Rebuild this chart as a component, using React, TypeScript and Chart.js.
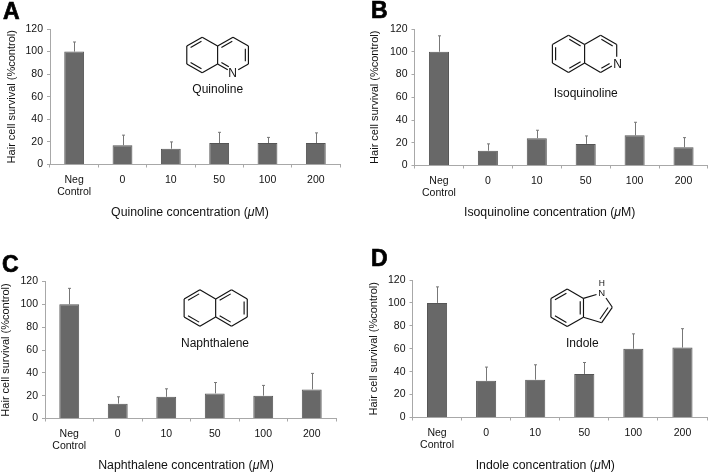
import React, { useEffect, useRef } from "react";
import { Chart, registerables } from "chart.js";

Chart.register(...registerables);

const categories = [["Neg", "Control"], "0", "10", "50", "100", "200"];
const yTicks = [0, 20, 40, 60, 80, 100, 120];

const quinolineValues = [100, 17, 14, 19, 19, 19];
const quinolineUpper = [108.5, 26, 20, 28.5, 24, 28];
const isoquinolineValues = [100, 13, 24, 19, 26.5, 16];
const isoquinolineUpper = [114, 19, 31, 26, 38, 24.5];
const naphthaleneValues = [100, 13, 19, 22, 20, 25.5];
const naphthaleneUpper = [114, 19, 26, 31.5, 29, 39.5];
const indoleValues = [100, 32, 33, 38, 60, 61];
const indoleUpper = [114, 44, 46, 48, 73, 77.5];

type Ctx = CanvasRenderingContext2D;
const INK = "#111111";
const FONT = "'Liberation Sans', Arial, sans-serif";

function seg(ctx: Ctx, x1: number, y1: number, x2: number, y2: number) {
  ctx.beginPath();
  ctx.moveTo(x1, y1);
  ctx.lineTo(x2, y2);
  ctx.stroke();
}

function ring(
  ctx: Ctx,
  cx: number,
  cy: number,
  R: number,
  doubles: number[],
  trims: Record<number, [number, number]> = {},
  skip: number[] = []
) {
  const v = [0, 1, 2, 3, 4, 5].map((k) => {
    const a = ((-90 + 60 * k) * Math.PI) / 180;
    return [cx + R * Math.cos(a), cy + R * Math.sin(a)];
  });
  for (let e = 0; e < 6; e++) {
    const [a, b] = [v[e], v[(e + 1) % 6]];
    const [s, t] = trims[e] || [0, 1];
    const lerp = (f: number, p: number[] = a, q: number[] = b) => [p[0] + (q[0] - p[0]) * f, p[1] + (q[1] - p[1]) * f];
    const p = lerp(s);
    const q = lerp(t);
    if (!skip.includes(e)) seg(ctx, p[0], p[1], q[0], q[1]);
    if (doubles.includes(e)) {
      const k = 0.8;
      const ia = [cx + (a[0] - cx) * k, cy + (a[1] - cy) * k];
      const ib = [cx + (b[0] - cx) * k, cy + (b[1] - cy) * k];
      const s2 = Math.max(s, 0.06);
      const t2 = Math.min(t, 0.94);
      const p2 = lerp(s2, ia, ib);
      const q2 = lerp(t2, ia, ib);
      seg(ctx, p2[0], p2[1], q2[0], q2[1]);
    }
  }
}

function atom(ctx: Ctx, label: string, x: number, y: number, size = 12) {
  ctx.font = `${size}px ${FONT}`;
  ctx.textAlign = "center";
  ctx.textBaseline = "middle";
  ctx.fillText(label, x, y);
}

const drawQuinoline = (ctx: Ctx) => {
  ring(ctx, 202.2, 55, 17.8, [5, 3]);
  ring(ctx, 233, 55, 17.8, [5, 1, 3], { 2: [0, 0.66], 3: [0.34, 1] }, [4]);
  atom(ctx, "N", 232.5, 73.5);
};
const drawIsoquinoline = (ctx: Ctx) => {
  ring(ctx, 568.5, 53.8, 18.6, [0, 2, 4]);
  ring(ctx, 600.6, 53.8, 18.6, [0, 2], { 1: [0, 0.66], 2: [0.3, 1] }, [4]);
  atom(ctx, "N", 617.5, 65);
};
const drawNaphthalene = (ctx: Ctx) => {
  ring(ctx, 199.9, 308, 18.2, [5, 3]);
  ring(ctx, 231.5, 308, 18.2, [5, 1, 3], {}, [4]);
};
const drawIndole = (ctx: Ctx) => {
  ring(ctx, 567.2, 307.8, 18.8, [5, 3, 1]);
  seg(ctx, 583.4, 298.4, 596.5, 294.5);
  seg(ctx, 606, 298, 612.3, 307.3);
  seg(ctx, 612.3, 307.3, 601.7, 322.7);
  seg(ctx, 608, 307.5, 600, 319);
  seg(ctx, 601.7, 322.7, 583.4, 317.2);
  atom(ctx, "N", 601.8, 293, 9.5);
  atom(ctx, "H", 601.8, 284, 8.5);
};

type Panel = {
  letter: string;
  letterX: number;
  letterY: number;
  x: number;
  y: number;
  w: number;
  h: number;
  axisX: number;
  axisRight: number;
  y0: number;
  y120: number;
  yTitleX: number;
  values: number[];
  upper: number[];
  name: string;
  nameX: number;
  nameY: number;
  xTitle: string;
  xTitleX: number;
  xTitleY: number;
  mol: (c: Ctx) => void;
};

const panels: Panel[] = [
  { letter: "A", letterX: 3, letterY: 19, x: -6, y: 0, w: 360, h: 236, axisX: 50, axisRight: 340, y0: 164.5, y120: 29, yTitleX: 12, values: quinolineValues, upper: quinolineUpper, name: "Quinoline", nameX: 217.7, nameY: 90, xTitle: "Quinoline", xTitleX: 190, xTitleY: 213, mol: drawQuinoline },
  { letter: "B", letterX: 371, letterY: 18, x: 354, y: 0, w: 354, h: 236, axisX: 414.5, axisRight: 708, y0: 165.5, y120: 29, yTitleX: 375, values: isoquinolineValues, upper: isoquinolineUpper, name: "Isoquinoline", nameX: 585.7, nameY: 94, xTitle: "Isoquinoline", xTitleX: 549.7, xTitleY: 213, mol: drawIsoquinoline },
  { letter: "C", letterX: 2, letterY: 272, x: -6, y: 236, w: 360, h: 237, axisX: 45, axisRight: 336, y0: 418.5, y120: 281.5, yTitleX: 5.5, values: naphthaleneValues, upper: naphthaleneUpper, name: "Naphthalene", nameX: 215, nameY: 344, xTitle: "Naphthalene", xTitleX: 186, xTitleY: 466, mol: drawNaphthalene },
  { letter: "D", letterX: 371, letterY: 266, x: 354, y: 236, w: 354, h: 237, axisX: 412.5, axisRight: 707, y0: 417.5, y120: 280, yTitleX: 374, values: indoleValues, upper: indoleUpper, name: "Indole", nameX: 582.3, nameY: 344, xTitle: "Indole", xTitleX: 545.3, xTitleY: 466, mol: drawIndole },
];

function makePlugin(p: Panel) {
  return {
    id: "panelExtras",
    afterDatasetsDraw(chart: any) {
      const ctx: Ctx = chart.ctx;
      const xs = chart.scales.x;
      const ys = chart.scales.y;
      ctx.save();
      ctx.strokeStyle = "#777777";
      ctx.lineWidth = 1;
      p.values.forEach((v, i) => {
        const cx = Math.round(xs.getPixelForValue(i)) + 0.5;
        const top = ys.getPixelForValue(p.upper[i]);
        const base = ys.getPixelForValue(v);
        seg(ctx, cx, base, cx, top);
        seg(ctx, cx - 1.5, top, cx + 1.5, top);
      });
      ctx.restore();
    },
    afterDraw(chart: any) {
      const ctx: Ctx = chart.ctx;
      ctx.save();
      ctx.translate(-p.x, -p.y);
      ctx.fillStyle = "#000";
      ctx.strokeStyle = "#000";
      ctx.lineWidth = 0.7;
      ctx.font = `bold 23px ${FONT}`;
      ctx.textAlign = "left";
      ctx.textBaseline = "alphabetic";
      ctx.fillText(p.letter, p.letterX, p.letterY);
      ctx.strokeText(p.letter, p.letterX, p.letterY);
      ctx.fillStyle = INK;
      ctx.strokeStyle = INK;
      ctx.lineWidth = 1.15;
      p.mol(ctx);
      ctx.font = `12px ${FONT}`;
      ctx.textAlign = "center";
      ctx.textBaseline = "middle";
      ctx.fillText(p.name, p.nameX, p.nameY);
      const parts: [string, string][] = [
        [`${p.xTitle} concentration (`, `12.3px ${FONT}`],
        ["μ", `italic 12.3px ${FONT}`],
        ["M)", `12.3px ${FONT}`],
      ];
      const widths = parts.map(([t, f]) => {
        ctx.font = f;
        return ctx.measureText(t).width;
      });
      let x = p.xTitleX - widths.reduce((a, b) => a + b, 0) / 2;
      ctx.textAlign = "left";
      parts.forEach(([t, f], i) => {
        ctx.font = f;
        ctx.fillText(t, x, p.xTitleY);
        x += widths[i];
      });
      ctx.restore();
    },
  };
}

function PanelChart({ p }: { p: Panel }) {
  const ref = useRef<HTMLCanvasElement>(null);
  useEffect(() => {
    const padLeft = Math.max(0, p.yTitleX - 6.6 - p.x);
    const chart = new Chart(ref.current as HTMLCanvasElement, {
      type: "bar",
      data: {
        labels: categories as any,
        datasets: [
          {
            data: p.values,
            backgroundColor: "#686868",
            borderColor: "#555555",
            borderWidth: 1,
            barPercentage: 0.41,
            categoryPercentage: 1,
          },
        ],
      },
      plugins: [makePlugin(p)],
      options: {
        animation: false,
        responsive: false,
        events: [],
        layout: {
          padding: {
            left: padLeft,
            top: p.y120 - p.y,
            right: p.x + p.w - p.axisRight,
            bottom: 0,
          },
        },
        plugins: { legend: { display: false }, tooltip: { enabled: false }, title: { display: false } },
        scales: {
          x: {
            afterFit: (s: any) => {
              s.height = p.h - (p.y0 - p.y);
            },
            border: { color: "#a8a8a8", width: 1 },
            grid: { offset: true, drawOnChartArea: false, drawTicks: true, tickLength: 3, color: "#a8a8a8" },
            ticks: {
              autoSkip: false,
              maxRotation: 0,
              minRotation: 0,
              padding: 7,
              color: INK,
              font: { family: FONT, size: 10.5, lineHeight: 1.12 },
            },
          },
          y: {
            min: 0,
            max: 120,
            afterFit: (s: any) => {
              s.width = p.axisX - p.x - padLeft;
            },
            afterBuildTicks: (s: any) => {
              s.ticks = yTicks.map((value) => ({ value }));
            },
            border: { color: "#a8a8a8", width: 1 },
            grid: { drawOnChartArea: false, drawTicks: true, tickLength: 3, color: "#a8a8a8" },
            title: {
              display: true,
              text: "Hair cell survival (%control)",
              color: INK,
              padding: 0,
              font: { family: FONT, size: 11, lineHeight: 1.2 },
            },
            ticks: {
              padding: 4,
              color: INK,
              font: { family: FONT, size: 10.5 },
            },
          },
        },
      } as any,
    });
    return () => chart.destroy();
  }, [p]);
  return (
    <canvas
      ref={ref}
      width={p.w}
      height={p.h}
      style={{ position: "absolute", left: p.x, top: p.y, width: p.w, height: p.h, display: "block" }}
    />
  );
}

export default function App() {
  return (
    <div style={{ position: "absolute", left: 0, top: 0, width: 708, height: 473, overflow: "hidden", background: "#fff" }}>
      {panels.map((p) => (
        <PanelChart key={p.letter} p={p} />
      ))}
    </div>
  );
}
